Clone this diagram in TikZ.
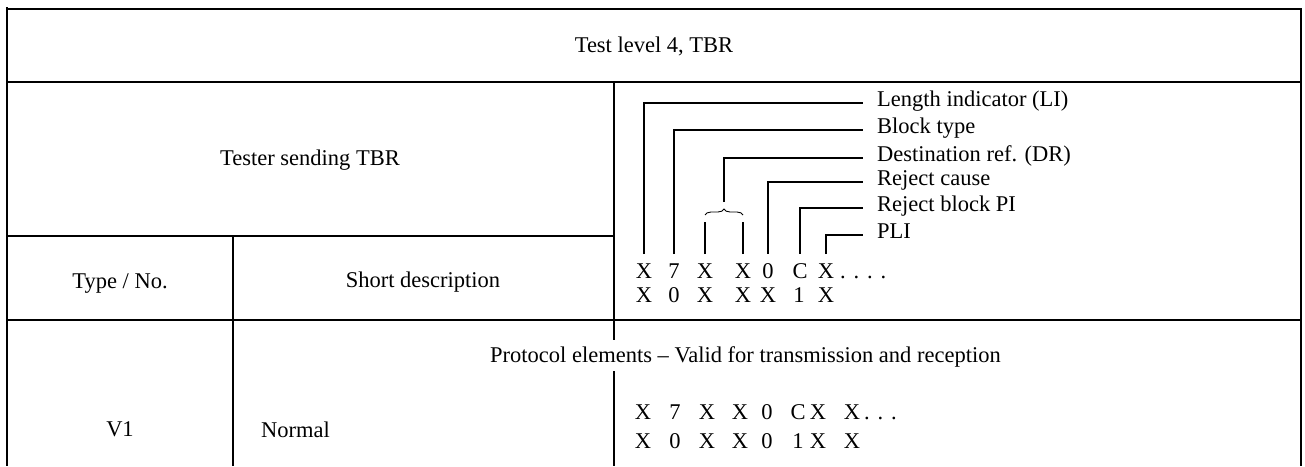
\documentclass[tikz,border=0pt]{standalone}
\usepackage{fontspec}
\setmainfont{Liberation Serif}
\usetikzlibrary{decorations.pathreplacing}
\begin{document}
\begin{tikzpicture}[x=1pt,y=-1pt,
  grid/.style={line width=1.3pt},
  conn/.style={line width=1.2pt},
  txt/.style={inner sep=0pt,anchor=base,font=\fontsize{22.5}{27}\selectfont},
  lbl/.style={inner sep=0pt,anchor=west,text height=0.85em,text depth=0.15em,font=\fontsize{22.5}{27}\selectfont},
  ch/.style={inner sep=0pt,anchor=base,font=\fontsize{22.5}{27}\selectfont}]
\useasboundingbox (0,0) rectangle (1305,466);
% table frame
\draw[grid] (7,7) -- (7,466);
\draw[grid] (7,9) -- (1301,9) -- (1301,466);
\draw[grid] (7,82) -- (1301,82);
\draw[grid] (7,236) -- (614,236);
\draw[grid] (7,320) -- (1301,320);
\draw[grid] (614,82) -- (614,340);
\draw[grid] (614,371) -- (614,466);
\draw[grid] (233,236) -- (233,466);
% texts
\node[txt] (title) at (654,52) {Test level 4, TBR};
\node[txt] (tester) at (310,165) {Tester sending TBR};
\node[txt] (typeno) at (120,288) {Type / No.};
\node[txt] (shortd) at (423,287) {Short description};
\node[txt,anchor=base west] (proto) at (490,362) {Protocol elements -- Valid for transmission and reception};
\node[txt] (v1) at (120,436) {V1};
\node[txt,anchor=base west] (normal) at (261,437) {Normal};
% header coding rows
\node[ch] (c1) at (644,278) {X};
\node[ch] (c2) at (674,278) {7};
\node[ch] (c3) at (705,278) {X};
\node[ch] (c4) at (743,278) {X};
\node[ch] (c5) at (768,278) {0};
\node[ch] (c6) at (800,278) {C};
\node[ch] (c7) at (826,278) {X};
\node[ch,anchor=base west] (cdots) at (840,278) {.\hspace{0.35em}.\hspace{0.35em}.\hspace{0.35em}.};
\node[ch] (d1) at (644,302) {X};
\node[ch] (d2) at (674,302) {0};
\node[ch] (d3) at (705,302) {X};
\node[ch] (d4) at (743,302) {X};
\node[ch] (d5) at (768,302) {X};
\node[ch] (d6) at (799,302) {1};
\node[ch] (d7) at (826,302) {X};
% labels
\node[lbl] (li) at (877,103) {Length indicator (LI)};
\node[lbl] (bt) at (877,130) {Block type};
\node[lbl] (dr) at (877,158) {Destination ref. (DR)};
\node[lbl] (rc) at (877,182) {Reject cause};
\node[lbl] (rb) at (877,208) {Reject block PI};
\node[lbl] (pli) at (877,235) {PLI};
% connectors
\draw[conn,shorten <=9pt,shorten >=14pt] (c1.north) |- (li.west);
\draw[conn,shorten <=9pt,shorten >=14pt] (c2.north) |- (bt.west);
\draw[conn,shorten <=9pt,shorten >=14pt] (c5.north) |- (rc.west);
\draw[conn,shorten <=9pt,shorten >=14pt] (c6.north) |- (rb.west);
\draw[conn,shorten <=9pt,shorten >=14pt] (c7.north) |- (pli.west);
\coordinate (bl) at (705,222);
\coordinate (br) at (743,222);
\draw[conn,shorten <=9pt] (c3.north) -- (bl);
\draw[conn,shorten <=9pt] (c4.north) -- (br);
\coordinate (bra) at (705,215);
\coordinate (brb) at (743,215);
\draw[line width=0.9pt,decorate,decoration={brace,amplitude=6pt}] (bra) -- (brb);
\coordinate (tip) at (724,202);
\draw[conn,shorten >=14pt] (tip) |- (dr.west);
% body coding rows
\node[ch] (e1) at (643,419) {X};
\node[ch] (e2) at (675,419) {7};
\node[ch] (e3) at (707,419) {X};
\node[ch] (e4) at (740,419) {X};
\node[ch] (e5) at (767,419) {0};
\node[ch] (e6) at (798,419) {C};
\node[ch] (e7) at (818,419) {X};
\node[ch] (e8) at (852,419) {X};
\node[ch,anchor=base west] (edots) at (864,419) {.\hspace{0.35em}.\hspace{0.35em}.};
\node[ch] (f1) at (643,448) {X};
\node[ch] (f2) at (675,448) {0};
\node[ch] (f3) at (707,448) {X};
\node[ch] (f4) at (740,448) {X};
\node[ch] (f5) at (767,448) {0};
\node[ch] (f6) at (798,448) {1};
\node[ch] (f7) at (818,448) {X};
\node[ch] (f8) at (852,448) {X};
\end{tikzpicture}
\end{document}
